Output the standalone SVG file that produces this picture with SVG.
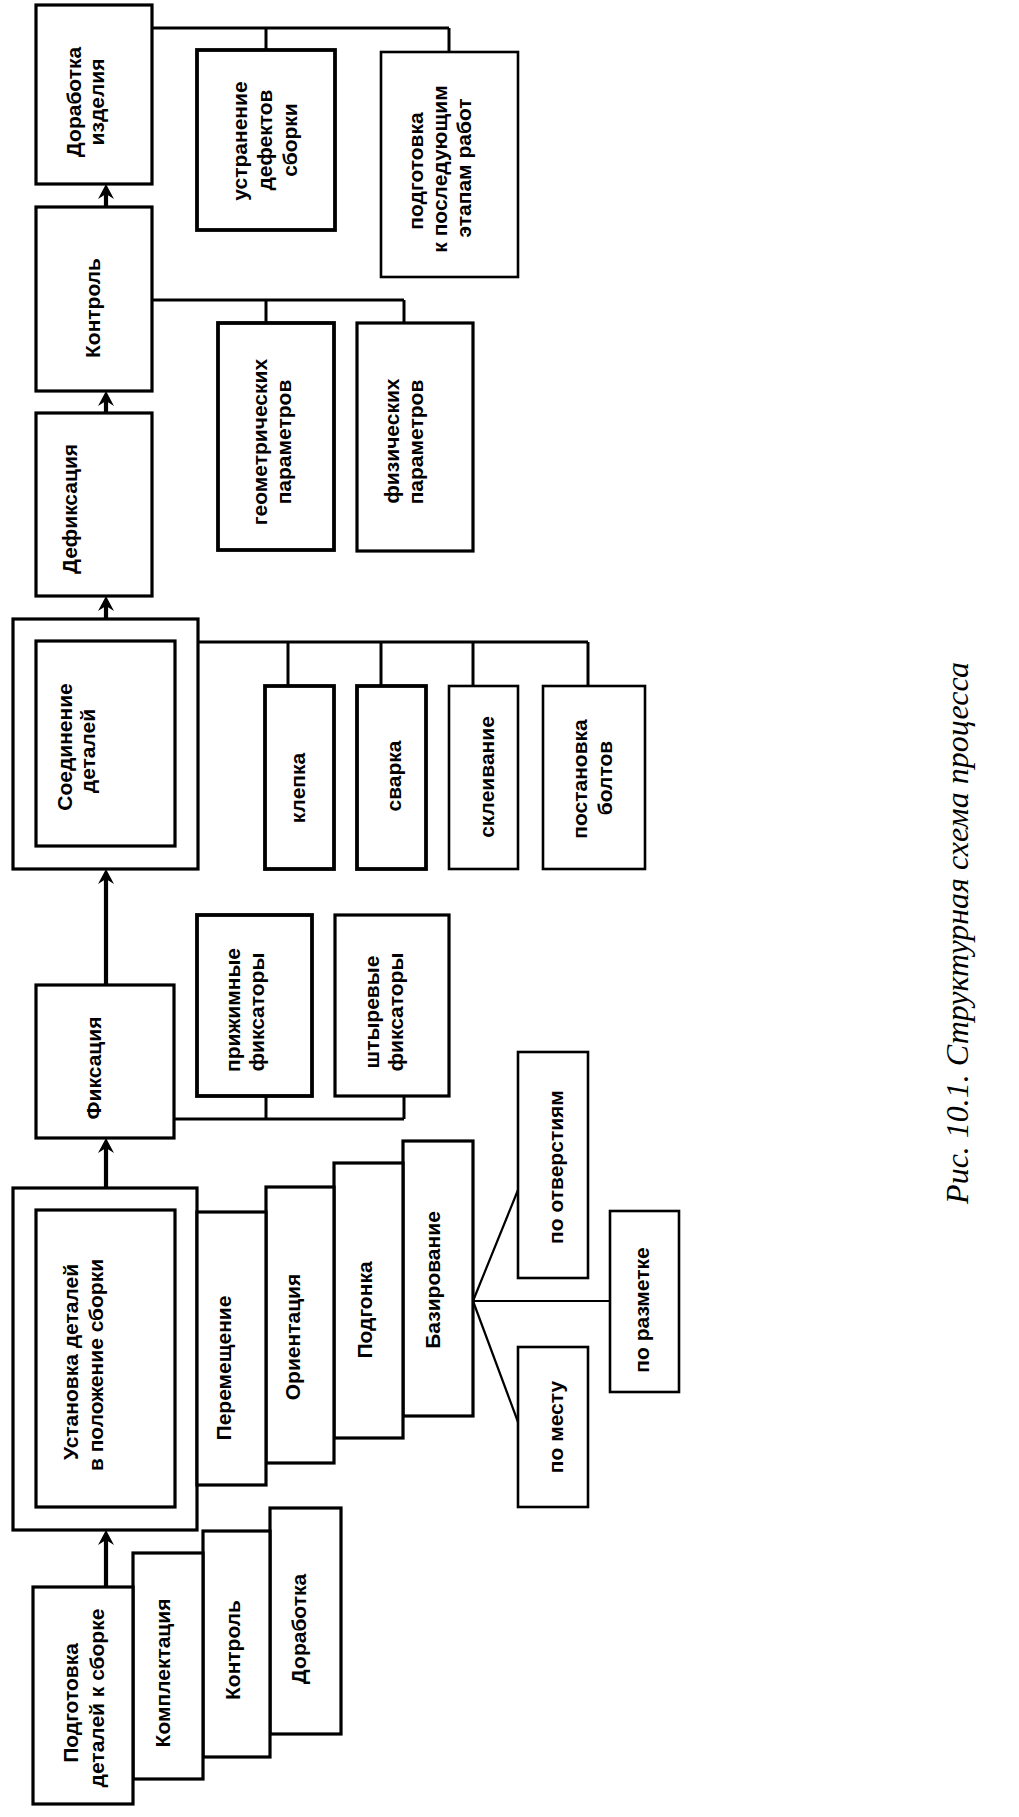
<svg xmlns="http://www.w3.org/2000/svg" width="1019" height="1817" viewBox="0 0 1019 1817">
<defs>
<style>
.b{fill:#fff;stroke:#000;stroke-width:3.2}
.bh{fill:#fff;stroke:#000;stroke-width:3.8}
.bl{fill:#fff;stroke:#000;stroke-width:2.6}
.c{fill:none;stroke:#000;stroke-width:3}
.f{fill:none;stroke:#000;stroke-width:2.2}
.a{fill:none;stroke:#000;stroke-width:4.2}
.t{font-family:"Liberation Sans",Arial,sans-serif;font-size:21px;font-weight:bold;text-anchor:middle;fill:#000}
.cap{font-family:"Liberation Serif","Times New Roman",serif;font-size:32px;font-style:italic;text-anchor:middle;fill:#000}
</style>
<marker id="ah" markerUnits="userSpaceOnUse" markerWidth="17" markerHeight="18" viewBox="-8 -9 17 18" refX="0" refY="0" orient="auto">
<path d="M8,0 L-7,-8 L-2,0 L-7,8 Z" fill="#000"/>
</marker>
</defs>
<rect width="1019" height="1817" fill="#fff"/>

<g id="connectors">
<path class="c" d="M152,28 H449 M266,28 V50 M449,28 V52"/>
<path class="c" d="M152,300 H404 M266,300 V323 M404,300 V323"/>
<path class="c" d="M198,642 H588 M288,642 V686 M381,642 V686 M473,642 V686 M588,642 V686"/>
<path class="c" d="M174,1119 H404 M266,1119 V1096 M404,1119 V1096"/>
<path class="f" d="M473,1301 L518,1190 M473,1301 H610 M473,1301 L518,1422"/>
<path class="a" d="M106,1587 V1538" marker-end="url(#ah)"/>
<path class="a" d="M106,1188 V1146" marker-end="url(#ah)"/>
<path class="a" d="M106,985 V877" marker-end="url(#ah)"/>
<path class="a" d="M106,619 V604" marker-end="url(#ah)"/>
<path class="a" d="M106,413 V399" marker-end="url(#ah)"/>
<path class="a" d="M106,207 V192" marker-end="url(#ah)"/>
</g>

<g id="n-dorabotka-izdeliya">
<rect class="b" x="36" y="5" width="116" height="179"/>
<text class="t" transform="translate(81,102) rotate(-90)">Доработка</text>
<text class="t" transform="translate(104,102) rotate(-90)">изделия</text>
</g>
<g id="n-ustranenie">
<rect class="bh" x="197" y="50" width="138" height="180"/>
<text class="t" transform="translate(247,141) rotate(-90)">устранение</text>
<text class="t" transform="translate(272,140) rotate(-90)">дефектов</text>
<text class="t" transform="translate(297,140) rotate(-90)">сборки</text>
</g>
<g id="n-podgotovka-etapam">
<rect class="bl" x="381" y="52" width="137" height="225"/>
<text class="t" transform="translate(423,171) rotate(-90)">подготовка</text>
<text class="t" transform="translate(447,169) rotate(-90)">к последующим</text>
<text class="t" transform="translate(471,168) rotate(-90)">этапам работ</text>
</g>
<g id="n-kontrol">
<rect class="b" x="36" y="207" width="116" height="184"/>
<text class="t" transform="translate(100,308) rotate(-90)">Контроль</text>
</g>
<g id="n-geom">
<rect class="bh" x="218" y="323" width="116" height="227"/>
<text class="t" transform="translate(267,442) rotate(-90)">геометрических</text>
<text class="t" transform="translate(291,442) rotate(-90)">параметров</text>
</g>
<g id="n-fiz">
<rect class="b" x="357" y="323" width="116" height="228"/>
<text class="t" transform="translate(399,441) rotate(-90)">физических</text>
<text class="t" transform="translate(423,442) rotate(-90)">параметров</text>
</g>
<g id="n-defiksaciya">
<rect class="b" x="36" y="413" width="116" height="183"/>
<text class="t" transform="translate(77,509) rotate(-90)">Дефиксация</text>
</g>
<g id="n-soedinenie">
<rect class="b" x="13" y="619" width="185" height="250"/>
<rect class="b" x="36" y="641" width="139" height="205"/>
<text class="t" transform="translate(72,747) rotate(-90)">Соединение</text>
<text class="t" transform="translate(95,751) rotate(-90)">деталей</text>
</g>
<g id="n-klepka">
<rect class="bh" x="265" y="686" width="69" height="183"/>
<text class="t" transform="translate(305,788) rotate(-90)">клепка</text>
</g>
<g id="n-svarka">
<rect class="bh" x="357" y="686" width="69" height="183"/>
<text class="t" transform="translate(401,776) rotate(-90)">сварка</text>
</g>
<g id="n-skleivanie">
<rect class="bl" x="449" y="686" width="69" height="183"/>
<text class="t" transform="translate(494,777) rotate(-90)">склеивание</text>
</g>
<g id="n-postanovka">
<rect class="bl" x="543" y="686" width="102" height="183"/>
<text class="t" transform="translate(587,779) rotate(-90)">постановка</text>
<text class="t" transform="translate(612,778) rotate(-90)">болтов</text>
</g>
<g id="n-fiksaciya">
<rect class="b" x="36" y="985" width="138" height="153"/>
<text class="t" transform="translate(101,1068) rotate(-90)">Фиксация</text>
</g>
<g id="n-prizhimnye">
<rect class="bh" x="197" y="915" width="115" height="181"/>
<text class="t" transform="translate(240,1010) rotate(-90)">прижимные</text>
<text class="t" transform="translate(264,1012) rotate(-90)">фиксаторы</text>
</g>
<g id="n-shtyrevye">
<rect class="b" x="335" y="915" width="114" height="181"/>
<text class="t" transform="translate(379,1012) rotate(-90)">штыревые</text>
<text class="t" transform="translate(403,1012) rotate(-90)">фиксаторы</text>
</g>
<g id="n-ustanovka">
<rect class="b" x="13" y="1188" width="184" height="342"/>
<rect class="b" x="36" y="1210" width="139" height="297"/>
<text class="t" transform="translate(78,1362) rotate(-90)">Установка деталей</text>
<text class="t" transform="translate(103,1365) rotate(-90)">в положение сборки</text>
</g>
<g id="n-bazirovanie">
<rect class="b" x="403" y="1141" width="70" height="275"/>
<text class="t" transform="translate(440,1280) rotate(-90)">Базирование</text>
</g>
<g id="n-podgonka">
<rect class="b" x="334" y="1163" width="69" height="275"/>
<text class="t" transform="translate(372,1310) rotate(-90)">Подгонка</text>
</g>
<g id="n-orientaciya">
<rect class="b" x="266" y="1187" width="68" height="276"/>
<text class="t" transform="translate(300,1337) rotate(-90)">Ориентация</text>
</g>
<g id="n-peremeshchenie">
<rect class="b" x="197" y="1212" width="69" height="273"/>
<text class="t" transform="translate(231,1368) rotate(-90)">Перемещение</text>
</g>
<g id="n-po-otverstiyam">
<rect class="bl" x="518" y="1052" width="70" height="226"/>
<text class="t" transform="translate(563,1167) rotate(-90)">по отверстиям</text>
</g>
<g id="n-po-razmetke">
<rect class="bl" x="610" y="1211" width="69" height="181"/>
<text class="t" transform="translate(649,1310) rotate(-90)">по разметке</text>
</g>
<g id="n-po-mestu">
<rect class="bl" x="518" y="1347" width="70" height="160"/>
<text class="t" transform="translate(563,1427) rotate(-90)">по месту</text>
</g>
<g id="n-dorabotka">
<rect class="b" x="270" y="1508" width="71" height="226"/>
<text class="t" transform="translate(306,1629) rotate(-90)">Доработка</text>
</g>
<g id="n-kontrol-2">
<rect class="b" x="203" y="1531" width="67" height="226"/>
<text class="t" transform="translate(240,1650) rotate(-90)">Контроль</text>
</g>
<g id="n-komplektaciya">
<rect class="b" x="133" y="1553" width="70" height="226"/>
<text class="t" transform="translate(170,1673) rotate(-90)">Комплектация</text>
</g>
<g id="n-podgotovka">
<rect class="b" x="33" y="1587" width="100" height="217"/>
<text class="t" transform="translate(78,1703) rotate(-90)">Подготовка</text>
<text class="t" transform="translate(104,1698) rotate(-90)">деталей к сборке</text>
</g>

<g id="caption">
<text class="cap" transform="translate(968,933) rotate(-90)">Рис. 10.1. Структурная схема процесса</text>
</g>
</svg>
